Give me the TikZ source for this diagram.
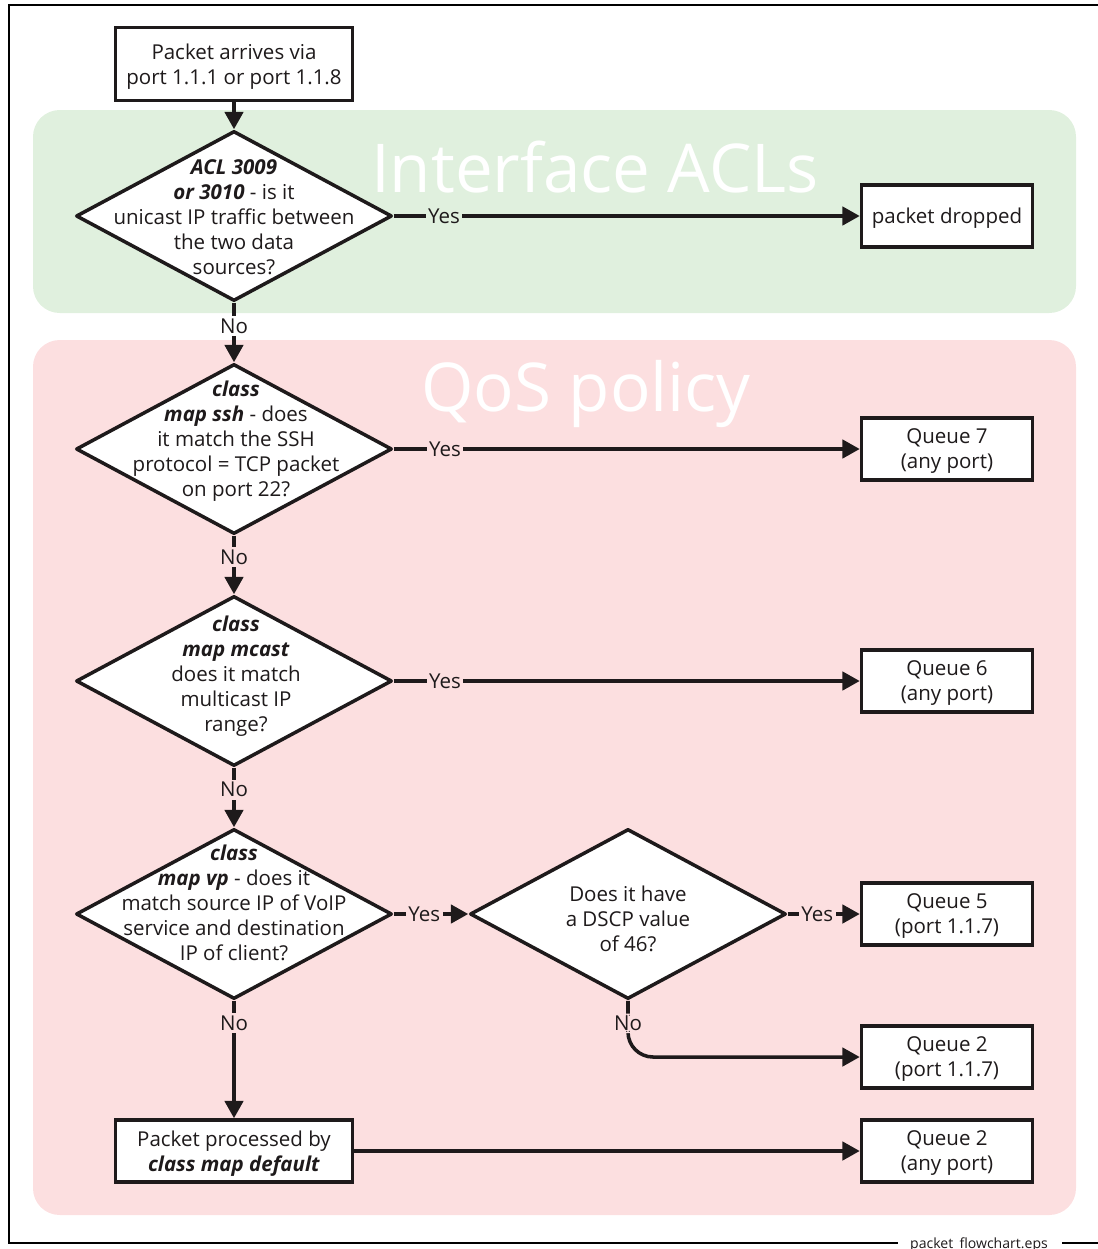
\documentclass[tikz,border=0pt]{standalone}
\usepackage{fontspec}
\setmainfont{Open Sans}
\usetikzlibrary{shapes.geometric, arrows.meta}

\definecolor{aclgreen}{RGB}{224,240,222}
\definecolor{qospink}{RGB}{252,223,224}
\definecolor{ink}{RGB}{30,26,27}

\tikzset{
    every node/.style={font=\fontsize{17.5}{21.3}\selectfont, text=ink},
    box/.style={draw=ink, fill=white, line width=3pt, align=center, inner sep=0pt, text depth=0pt},
    decision/.style={draw=ink, fill=white, diamond, line width=3pt, line join=round,
        minimum width=9.48cm, minimum height=5.1cm, inner sep=0pt},
    flow/.style={->, draw=ink, line width=3pt, >={Triangle[length=0.52cm, width=0.55cm]}},
    answer/.style={inner sep=2pt, fill=qospink},
    bigtitle/.style={font=\fontsize{57.5}{62}\selectfont, text=white}
}

\newcommand{\bi}[1]{\textbf{\textit{#1}}}

\begin{document}
\begin{tikzpicture}[x=0.03cm, y=-0.03cm]
    \useasboundingbox (0,0) rectangle (1098,1249);

    % Frame
    \draw[line width=2.5pt, black] (1098,5) -- (9,5) -- (9,1243) -- (898,1243);
    \draw[line width=2.5pt, black] (1062,1243) -- (1098,1243);
    \node[anchor=base, font=\fontsize{12}{14}\selectfont] (caption) at (979,1248) {packet\_flowchart.eps};

    % Regions
    \fill[aclgreen, rounded corners=0.8cm] (33,110) rectangle (1076,313);
    \fill[qospink, rounded corners=0.8cm] (33,340) rectangle (1076,1215);
    \node[bigtitle] (acltitle) at (595,167) {Interface ACLs};
    \node[bigtitle] (qostitle) at (586,394) {QoS policy};

    % Boxes
    \node[box, minimum width=7.11cm, minimum height=2.19cm] (start) at (234,64)
        {Packet arrives via\\port 1.1.1 or port 1.1.8};
    \node[box, minimum width=5.13cm, minimum height=1.86cm] (dropped) at (947,216) {packet dropped};
    \node[box, minimum width=5.13cm, minimum height=1.86cm] (q7) at (947,449) {Queue 7\\(any port)};
    \node[box, minimum width=5.13cm, minimum height=1.86cm] (q6) at (947,681) {Queue 6\\(any port)};
    \node[box, minimum width=5.13cm, minimum height=1.86cm] (q5) at (947,914) {Queue 5\\(port 1.1.7)};
    \node[box, minimum width=5.13cm, minimum height=1.86cm] (q2p) at (947,1057) {Queue 2\\(port 1.1.7)};
    \node[box, minimum width=5.13cm, minimum height=1.86cm] (q2a) at (947,1151) {Queue 2\\(any port)};
    \node[box, minimum width=7.11cm, minimum height=1.86cm] (default) at (234,1151)
        {Packet processed by\\\bi{class map default}};

    % Decisions
    \node[decision] (acl) at (234,216) {};
    \node[decision] (ssh) at (234,449) {};
    \node[decision] (mcast) at (234,681) {};
    \node[decision] (vp) at (234,914) {};
    \node[decision] (dscp) at (628,914) {};

    \node[align=center] (acltext) at (234,217)
        {\bi{ACL 3009}\\\bi{or 3010} - is it\\unicast IP traffic between\\the two data\\sources?};
    \node[align=center] (sshtext) at (236,441)
        {\bi{class}\\\bi{map ssh} - does\\it match the SSH\\protocol = TCP packet\\on port 22?};
    \node[align=center] (mcasttext) at (236,676)
        {\bi{class}\\\bi{map mcast}\\does it match\\multicast IP\\range?};
    \node[align=center] (vptext) at (234,903)
        {\bi{class}\\\bi{map vp} - does it\\match source IP of VoIP\\service and destination\\IP of client?};
    \node[align=center] (dscptext) at (628,919)
        {Does it have\\a DSCP value\\of 46?};

    % Connectors
    \draw[flow] (start) -- (acl);
    \draw[flow] (acl) -- node[pos=0.108, answer, fill=aclgreen] {Yes} (dropped);
    \draw[flow] (acl) -- node[pos=0.39, answer, fill=white] {No} (ssh);
    \draw[flow] (ssh) -- node[pos=0.11, answer] {Yes} (q7);
    \draw[flow] (ssh) -- node[pos=0.36, answer] {No} (mcast);
    \draw[flow] (mcast) -- node[pos=0.11, answer] {Yes} (q6);
    \draw[flow] (mcast) -- node[pos=0.37, answer] {No} (vp);
    \draw[flow] (vp) -- node[pos=0.41, answer] {Yes} (dscp);
    \draw[flow] (vp) -- node[pos=0.19, answer] {No} (default);
    \draw[flow] (dscp) -- node[pos=0.41, answer] {Yes} (q5);
    \draw[flow, rounded corners=0.75cm] (dscp.south) |- node[pos=0.2, answer] {No} (q2p.west);
    \draw[flow] (default) -- (q2a);

\end{tikzpicture}
\end{document}
